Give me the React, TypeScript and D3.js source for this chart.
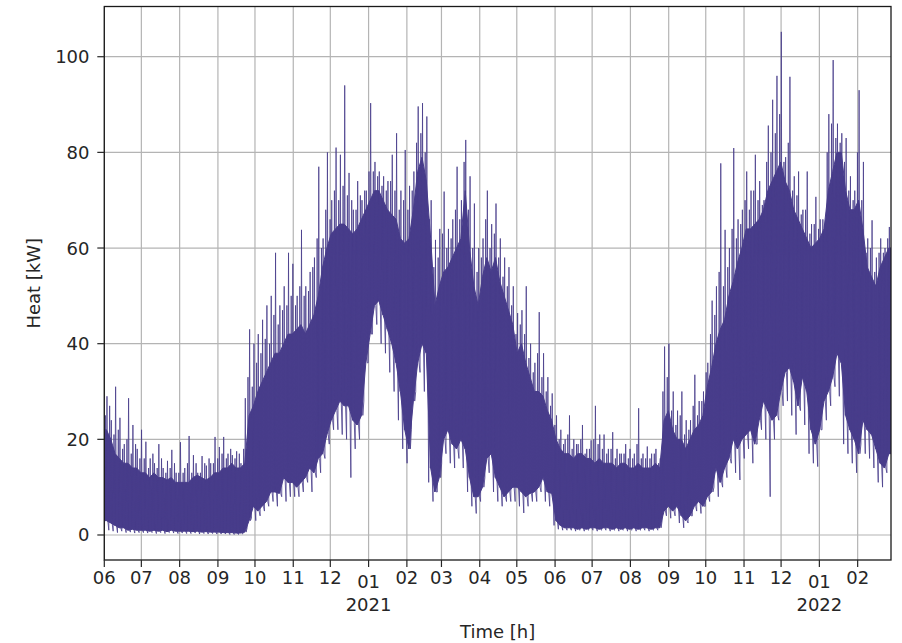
import React from 'react'
import * as d3 from 'd3'

// hourly heat load, read off the picture as half-week bins (84 h each)
// low = bottom of the dense band, core = top of the dense band,
// fringe = typical height of the thin hairs above the band, peak = highest spike,
// dip = lowest hair below the band
const startDate = new Date(Date.UTC(2020, 5, 1))
const endDate = new Date(Date.UTC(2022, 1, 28))
const binHours = 84

const heatLow = [
  3, 2.5, 2, 1.5, 1.5, 1, 1.2, 1, 1,
  1, 0.8, 1, 0.8, 1, 0.7, 1, 0.8, 0.8,
  0.8, 0.8, 0.7, 0.8, 0.6, 0.7, 0.6, 0.6, 0.6,
  0.5, 0.5, 0.5, 0.4, 0.4, 0.6, 3, 6,
  5, 6, 7, 9, 9, 8.7, 12, 11, 11, 10, 11, 12, 14, 13, 16, 17, 21, 24, 26, 28, 27, 27, 24, 23, 25, 36, 42,
  48, 49, 46, 43, 40, 36, 30, 22, 18, 28, 36, 40, 38, 14, 9, 12, 20, 22, 19, 18, 20, 18, 12, 8, 8, 10, 16, 17, 12, 10, 8, 9, 10,
  10, 9, 8, 8.7, 9, 10, 12, 9, 8.7, 3, 2, 1.5, 1.5, 1.5, 1.2, 1.5, 1.2, 1.5, 1.5, 1.2, 1.5, 1.5, 1.2, 1.5, 1.2, 1.5, 1.2, 1.5, 1.2, 1.5, 1.5, 1.2, 1.5, 1.5, 5, 6,
  5, 6, 4, 3, 4, 6, 7, 6, 8, 9, 14, 11, 14, 16, 20, 18, 20, 21, 22, 19, 24, 28, 26, 24, 25, 30,
  34, 35, 32, 27, 33, 30, 22, 19, 22, 28, 30, 33, 38, 36, 25, 22, 20, 17, 24, 22, 21, 18, 15, 14, 17,
]

const heatDip = [
  1.5, 1, 0.8, 0.5, 0.8, 0.5, 0.6, 0.4, 0.5,
  0.5, 0.4, 0.5, 0.3, 0.5, 0.3, 0.5, 0.4, 0.3,
  0.4, 0.3, 0.3, 0.4, 0.2, 0.3, 0.2, 0.3, 0.2,
  0.2, 0.2, 0.1, 0.1, 0.1, 0.2, 1.5, 3.5,
  3, 4, 5, 6, 7, 6, 8, 7, 8, 8, 8, 9, 11, 9, 12, 13, 16, 19, 22, 22, 21, 20, 12, 18, 20, 28, 36,
  42, 44, 40, 38, 34, 30, 24, 18, 15, 22, 30, 34, 30, 11, 7, 9, 15, 17, 15, 14, 16, 14, 9, 6, 4.5, 7, 12, 13, 9, 7, 6, 7, 7,
  7, 6, 4.6, 6, 7, 7, 9, 7, 6, 2, 1.2, 1, 1, 1, 0.8, 1, 0.8, 1, 1, 0.8, 1, 1, 0.8, 1, 0.8, 1, 0.8, 1, 0.8, 1, 1, 0.8, 1, 1, 3, 4,
  3.5, 4, 2.5, 1.5, 2.5, 4, 5, 4.5, 6, 7, 10, 8, 10, 12, 15, 13, 11.5, 16, 18, 15, 19, 22, 20, 8, 20, 24,
  27, 28, 25, 21, 26, 23, 17, 15, 14.3, 22, 24, 27, 31, 29, 19, 17, 15, 13, 19, 17, 16, 14, 11, 10, 13,
]

const heatCore = [
  22, 20, 17, 16, 15, 15, 14, 14, 13,
  13, 12, 13, 12, 12, 11.5, 12, 11, 11,
  11, 11, 12, 12.5, 12, 11.5, 12, 13, 13,
  14, 14, 15, 14, 14, 15, 25, 27,
  30, 32, 34, 36, 38, 38, 40, 42, 42, 43, 44, 42, 44, 46, 50, 56, 60, 63, 64, 65, 65, 64, 63, 64, 66, 68, 70,
  72, 72, 70, 68, 67, 66, 62, 61, 62, 68, 76, 79, 74, 62, 48, 52, 55, 56, 58, 60, 62, 72, 60, 52, 48, 54, 58, 55, 58, 53, 50, 47, 44,
  38, 40, 36, 33, 30, 30, 29, 26, 24, 20, 18, 17, 17, 16, 17, 17, 16, 16, 15, 16, 15, 15, 15, 14, 15, 15, 14, 14, 15, 14, 14, 14, 15, 14, 24, 26,
  22, 20, 20, 18, 20, 22, 23, 25, 31, 35, 40, 43, 45, 50, 53, 57, 60, 64, 64, 65, 66, 68, 72, 74, 76, 78,
  74, 72, 68, 66, 64, 62, 60, 61, 62, 64, 72, 76, 80, 80, 72, 68, 68, 70, 64, 56, 54, 52, 56, 58, 60,
]

const heatFringe = [
  25, 27, 21, 22, 18, 20, 17, 19, 16,
  16, 14, 17, 14, 16, 13, 14, 15, 13,
  13, 15, 13, 15, 13, 15, 16, 15, 16,
  17, 16, 18, 16, 17, 18, 33, 31,
  36, 38, 41, 40, 46, 44, 47, 48, 50, 48, 52, 50, 51, 56, 62, 60, 68, 66, 72, 70, 73, 71, 70, 68, 71, 72, 76,
  76, 75, 73, 72, 74, 72, 68, 70, 68, 72, 82, 84, 80, 66, 56, 58, 63, 60, 62, 68, 66, 78, 68, 60, 55, 58, 66, 60, 63, 58, 54, 52, 48,
  42, 44, 42, 37, 34, 38, 33, 30, 27, 23, 20, 19, 21, 18, 19, 20, 17, 18, 20, 19, 18, 17, 18, 16, 17, 17, 16, 16, 19, 16, 16, 16, 17, 15, 30, 33,
  26, 23, 25, 21, 22, 27, 25, 28, 34, 42, 46, 55, 52, 56, 64, 62, 65, 70, 68, 72, 70, 69, 78, 80, 84, 88,
  78, 82, 72, 71, 67, 68, 63, 65, 64, 66, 80, 86, 83, 82, 78, 72, 70, 80, 70, 59, 60, 55, 59, 59, 62,
]

const heatPeak = [
  29, 24, 31, 24.5, 19, 28.6, 23, 18, 22,
  19.5, 16, 15, 19, 14, 15.5, 17.8, 13, 19.4,
  14, 20.7, 16.7, 13, 16.5, 14.5, 15, 20.5, 18.4,
  20.5, 17, 16.7, 17.5, 15, 28.6, 43, 40,
  42, 45, 48, 50, 59, 48, 52, 59, 56.7, 50, 63.8, 52, 55, 58, 77, 62, 80, 70, 81, 79.5, 94, 75.7, 68, 74, 70, 72, 90.3,
  78, 76, 75, 74, 79.5, 84, 72, 80.5, 73, 76, 89.6, 90.3, 87.5, 70, 61.7, 64, 71.8, 64, 66, 77, 70, 82.6, 75, 69.3, 60, 62, 72, 65, 69.3, 62, 58, 56, 52,
  46.4, 47, 52, 40, 36, 46.6, 38, 33, 29.6, 25, 22, 20, 25, 20, 19, 23, 18, 19.8, 27, 21, 21, 18, 21.5, 18, 17, 19, 18, 17, 26.5, 17, 18.5, 17, 18, 16, 39.4, 40,
  30, 26, 30, 24, 24, 33.5, 28, 30, 36, 49, 52, 77.7, 63.8, 60, 80.9, 66, 68, 76, 72, 79.5, 74, 70, 85.6, 91, 96, 105.2,
  79, 95.8, 75, 76, 68, 76, 65, 70.7, 66, 65, 88, 99.3, 86, 84, 83, 75, 72, 93, 78, 62, 65.8, 58, 62, 60, 64.4,
]

const yTicks = [0, 20, 40, 60, 80, 100]

const W = 902
const H = 643
const left = 104.3
const right = 891
const top = 6.5
const bottom = 560
const font = 'DejaVu Sans, sans-serif'
const lineColor = '#483d8b'

type Bin = { t: Date; lo: number; dip: number; core: number; fringe: number; peak: number }

export default function App() {
  const x = d3.scaleUtc().domain([startDate, endDate]).range([left, right])
  const y = d3.scaleLinear().domain([-5.23, 110.5]).range([bottom, top])

  const bins: Bin[] = heatLow.map((lo, i) => ({
    t: d3.utcHour.offset(startDate, i * binHours),
    lo,
    dip: heatDip[i],
    core: heatCore[i],
    fringe: heatFringe[i],
    peak: heatPeak[i],
  }))

  // dense band
  const bandPts: Bin[] = [
    { ...bins[0], t: startDate },
    ...bins.map(d => ({ ...d, t: d3.utcHour.offset(d.t, binHours / 2) })),
    { ...bins[bins.length - 1], t: endDate },
  ]
  const band = d3.area<Bin>()
    .x(d => x(d.t))
    .y0(d => y(d.lo))
    .y1(d => y(d.core))

  // hairs: per bin one dip, one spike to the fringe level and one to the peak
  const spikePts: [Date, number][] = bins.flatMap(d => [
    [d3.utcHour.offset(d.t, 4), d.dip],
    [d3.utcHour.offset(d.t, 20), d.fringe],
    [d3.utcHour.offset(d.t, 36), d.lo],
    [d3.utcHour.offset(d.t, 52), d.peak],
    [d3.utcHour.offset(d.t, 68), d.lo],
  ] as [Date, number][])
  const spikes = d3.line<[Date, number]>()
    .x(p => x(p[0]))
    .y(p => y(p[1]))

  const months = d3.utcMonth.range(startDate, endDate)
  const fmt = d3.utcFormat('%m')

  return (
    <svg width={W} height={H} style={{ position: 'absolute', left: 0, top: 0, background: '#fff' }}
      fontFamily={font}>
      <defs>
        <clipPath id="plot">
          <rect x={left} y={top} width={right - left} height={bottom - top} />
        </clipPath>
      </defs>

      {/* grid */}
      <g stroke="#b4b4b4" strokeWidth={1.2}>
        {months.map(m => (
          <line key={+m} x1={x(m)} x2={x(m)} y1={top} y2={bottom} />
        ))}
        {yTicks.map(v => (
          <line key={v} x1={left} x2={right} y1={y(v)} y2={y(v)} />
        ))}
      </g>

      <g clipPath="url(#plot)">
        <path d={band(bandPts) || ''} fill={lineColor} stroke={lineColor} strokeWidth={1} />
        <path d={spikes(spikePts) || ''} fill="none" stroke={lineColor} strokeWidth={0.9} strokeOpacity={0.9} />
      </g>

      {/* frame */}
      <rect x={left} y={top} width={right - left} height={bottom - top} fill="none" stroke="#1a1a1a" strokeWidth={1.3} />

      {/* y axis */}
      <g fill="#262626" fontSize={18}>
        {yTicks.map(v => (
          <g key={v}>
            <line x1={left - 7} x2={left} y1={y(v)} y2={y(v)} stroke="#262626" strokeWidth={1.2} />
            <text x={89.5} y={y(v)} textAnchor="end" dominantBaseline="central">{v}</text>
          </g>
        ))}
      </g>

      {/* x axis */}
      <g fill="#262626" fontSize={18}>
        {months.map(m => {
          const jan = m.getUTCMonth() === 0
          return (
            <g key={+m}>
              <line x1={x(m)} x2={x(m)} y1={bottom} y2={bottom + 7} stroke="#262626" strokeWidth={1.2} />
              <text x={x(m)} y={jan ? 588 : 584} textAnchor="middle">{fmt(m)}</text>
              {jan && <text x={x(m)} y={610.5} textAnchor="middle">{m.getUTCFullYear()}</text>}
            </g>
          )
        })}
      </g>

      <text x={(left + right) / 2} y={638} textAnchor="middle" fontSize={18} fill="#262626">Time [h]</text>
      <text transform={`translate(40, ${(top + bottom) / 2}) rotate(-90)`} textAnchor="middle" fontSize={18} fill="#262626">Heat [kW]</text>
    </svg>
  )
}
